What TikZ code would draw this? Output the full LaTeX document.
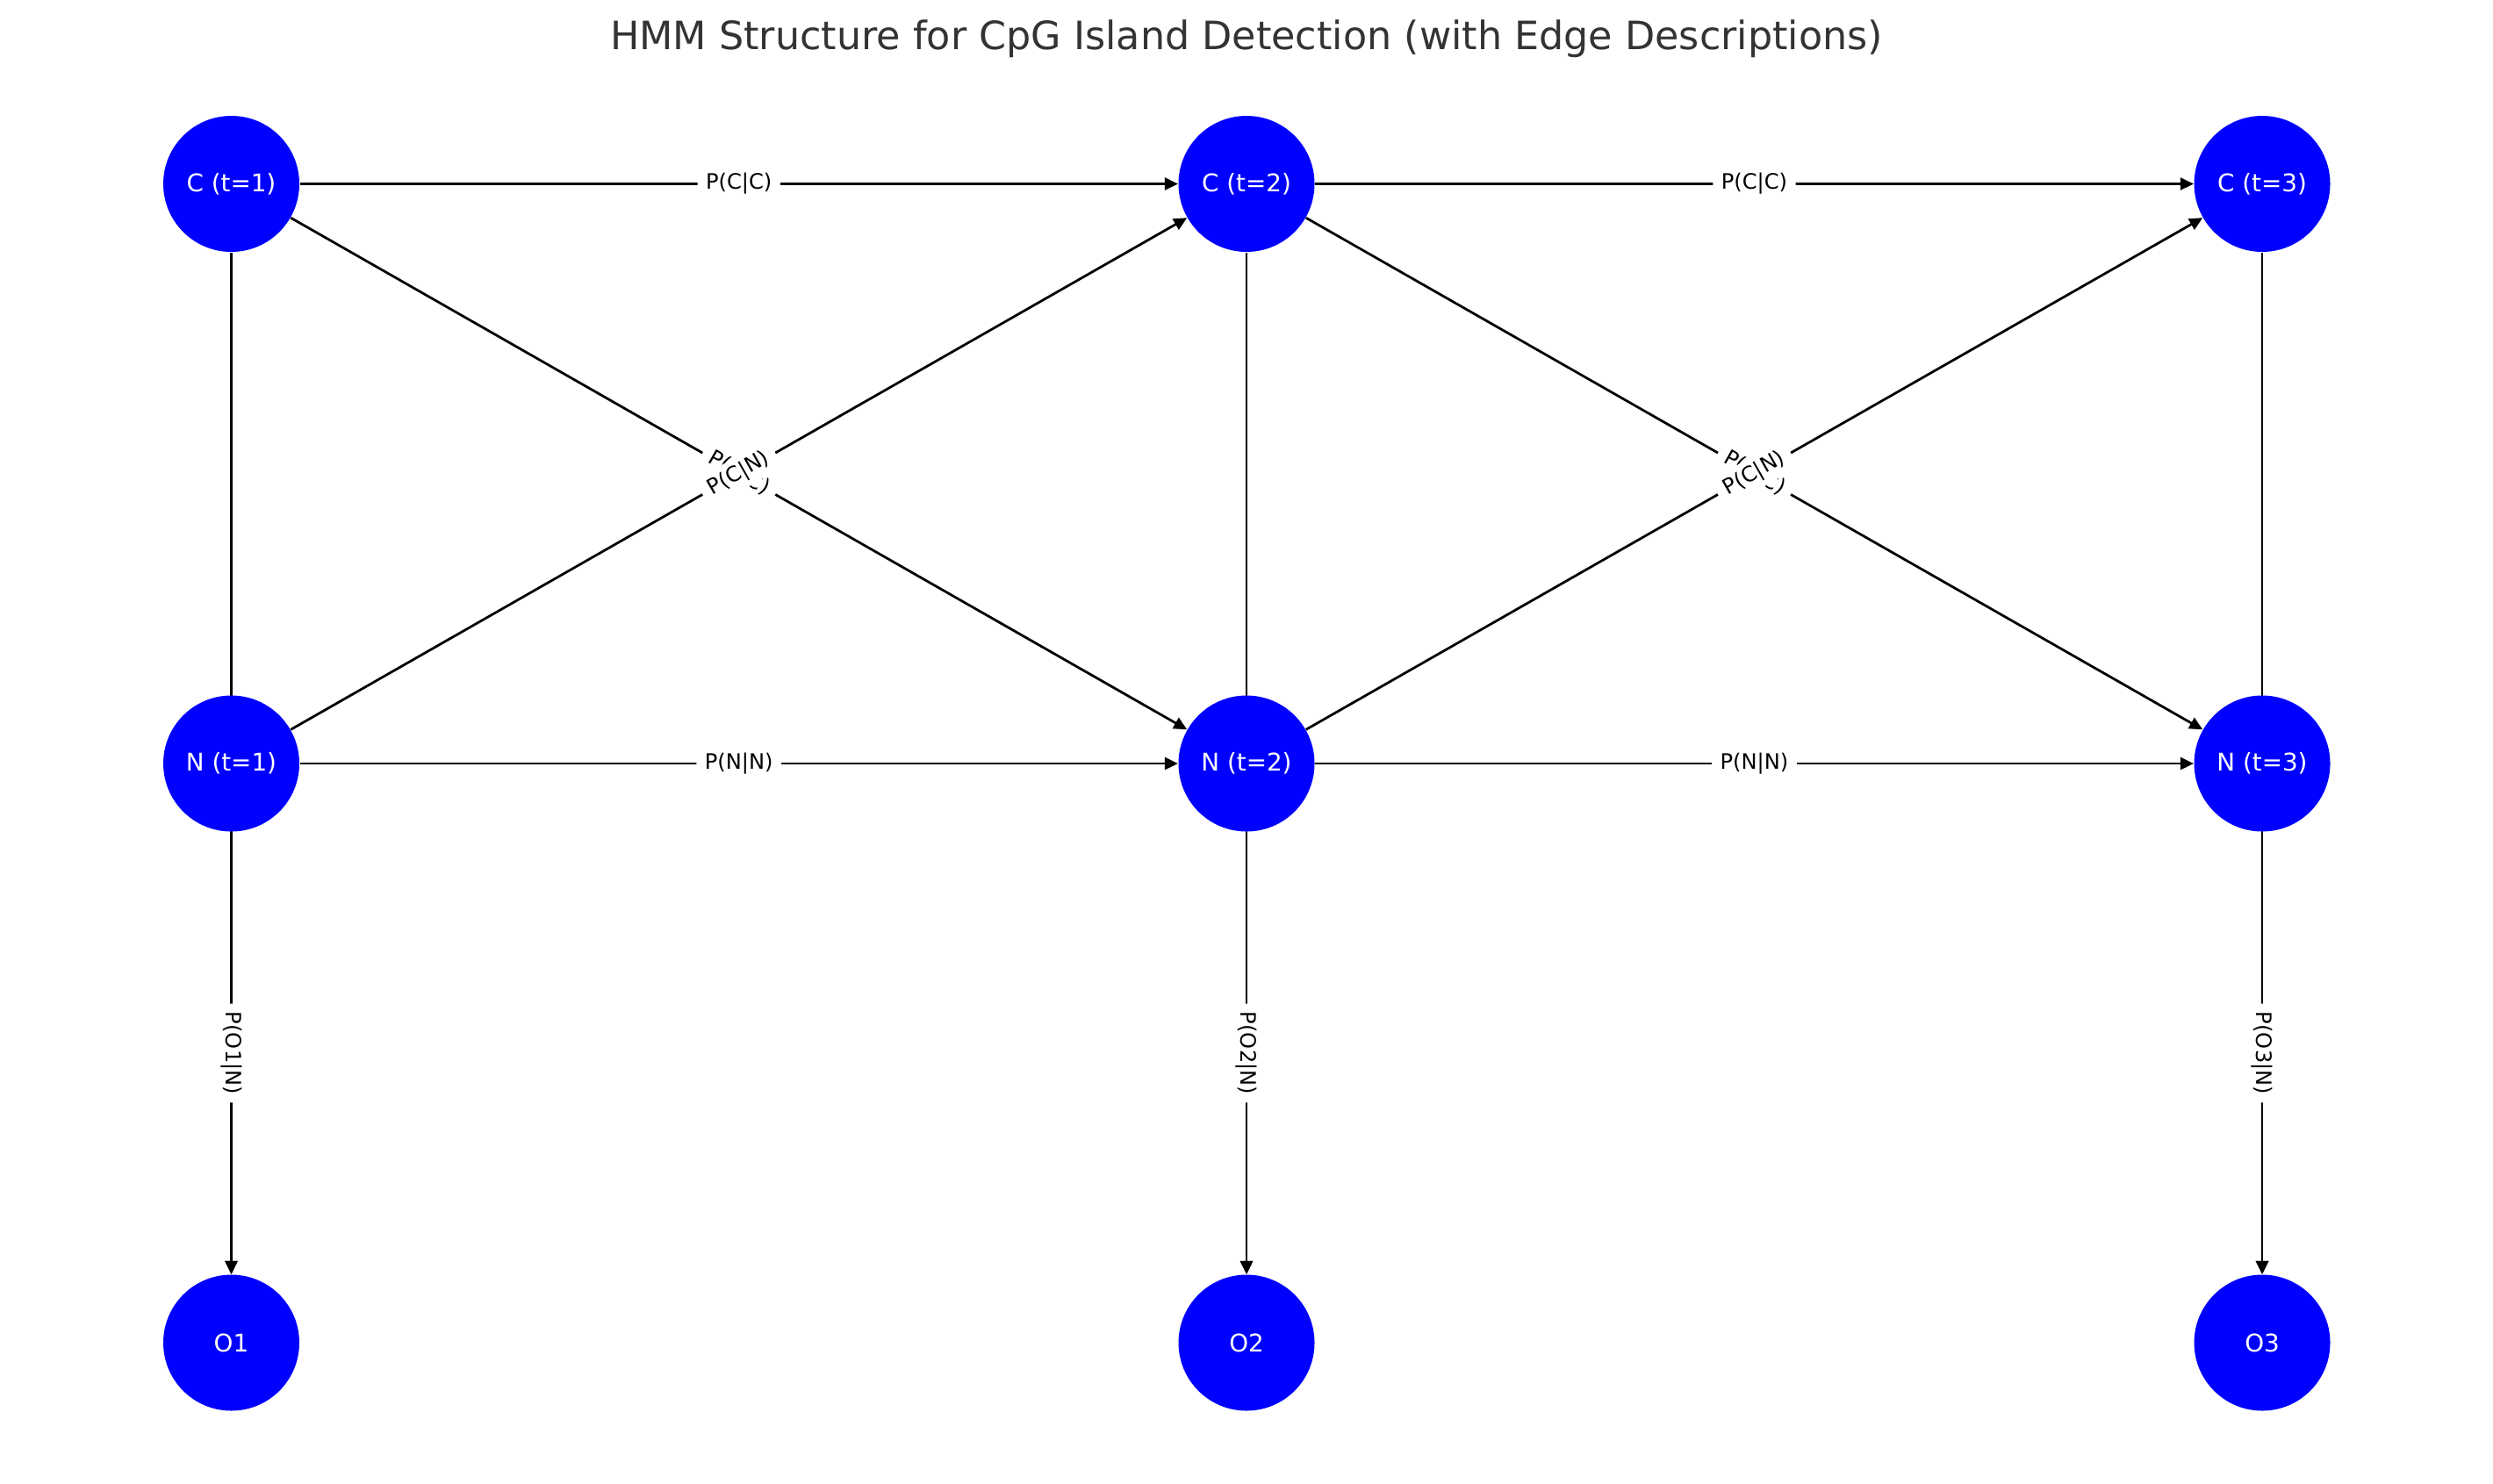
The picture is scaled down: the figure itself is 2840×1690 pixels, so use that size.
\documentclass[tikz,border=0pt]{standalone}
\usepackage{fontspec}
\setsansfont{DejaVu Sans}
\usetikzlibrary{arrows.meta,backgrounds}
\definecolor{hmmInk}{HTML}{000000}
\definecolor{hmmState}{HTML}{0000FF}
\definecolor{hmmTitle}{HTML}{333333}

\begin{document}
\begin{tikzpicture}[x=0.36pt, y=-0.36pt, font=\sffamily,
  state/.style={circle, fill=hmmState, inner sep=0, minimum size=55.8pt,
                text=white, font=\sffamily\fontsize{10}{12}\selectfont},
  trans/.style={draw=hmmInk, line width=1pt,
                -{Triangle[length=5.4pt,width=5pt]}},
  prob/.style={fill=white, inner xsep=3.4pt, inner ysep=2.2pt,
               rounded corners=2pt, text=hmmInk,
               font=\sffamily\fontsize{8.7}{10}\selectfont}]

% dimensions (in pixels of the 2840 x 1690 frame)
\def\rowC{209.5}   % hidden state C
\def\rowN{870}     % hidden state N
\def\rowO{1530}    % observations

\useasboundingbox (0,0) rectangle (2840,1690);

% --- title ---
\node[anchor=base, text=hmmTitle, font=\sffamily\fontsize{16}{19}\selectfont]
  (title) at (1420, 56)
  {HMM Structure for CpG Island Detection (with Edge Descriptions)};

% --- states, one column per time step ---
\foreach \t/\x in {1/263.5, 2/1420, 3/2577} {
  \node[state] (c\t) at (\x, \rowC) {C (t=\t)};
  \node[state] (n\t) at (\x, \rowN) {N (t=\t)};
  \node[state] (o\t) at (\x, \rowO) {O\t};
}

\begin{scope}[on background layer]
% --- edges first ---
\foreach \t/\u in {1/2, 2/3} {
  \draw[trans] (c\t) -- (c\u);
  \draw[trans] (n\t) -- (n\u);
  \draw[trans] (c\t) -- (n\u);
  \draw[trans] (n\t) -- (c\u);
}
\foreach \t in {1, 2, 3} {
  \draw[trans] (c\t) -- (o\t);   % runs behind N
  \draw[trans] (n\t) -- (o\t);
}

% --- labels on top of the edges ---
\foreach \t/\u in {1/2, 2/3} {
  \path (c\t) -- node[prob] {P(C|C)} (c\u);
  \path (n\t) -- node[prob] {P(N|N)} (n\u);
  \path (c\t) -- node[prob, sloped] {P(N|C)} (n\u);
  \path (n\t) -- node[prob, sloped] {P(C|N)} (c\u);
}
\foreach \t in {1, 2, 3} {
  \path (n\t) -- node[prob, rotate=-90] {P(O\t|N)} (o\t);
}
\end{scope}

\end{tikzpicture}
\end{document}
